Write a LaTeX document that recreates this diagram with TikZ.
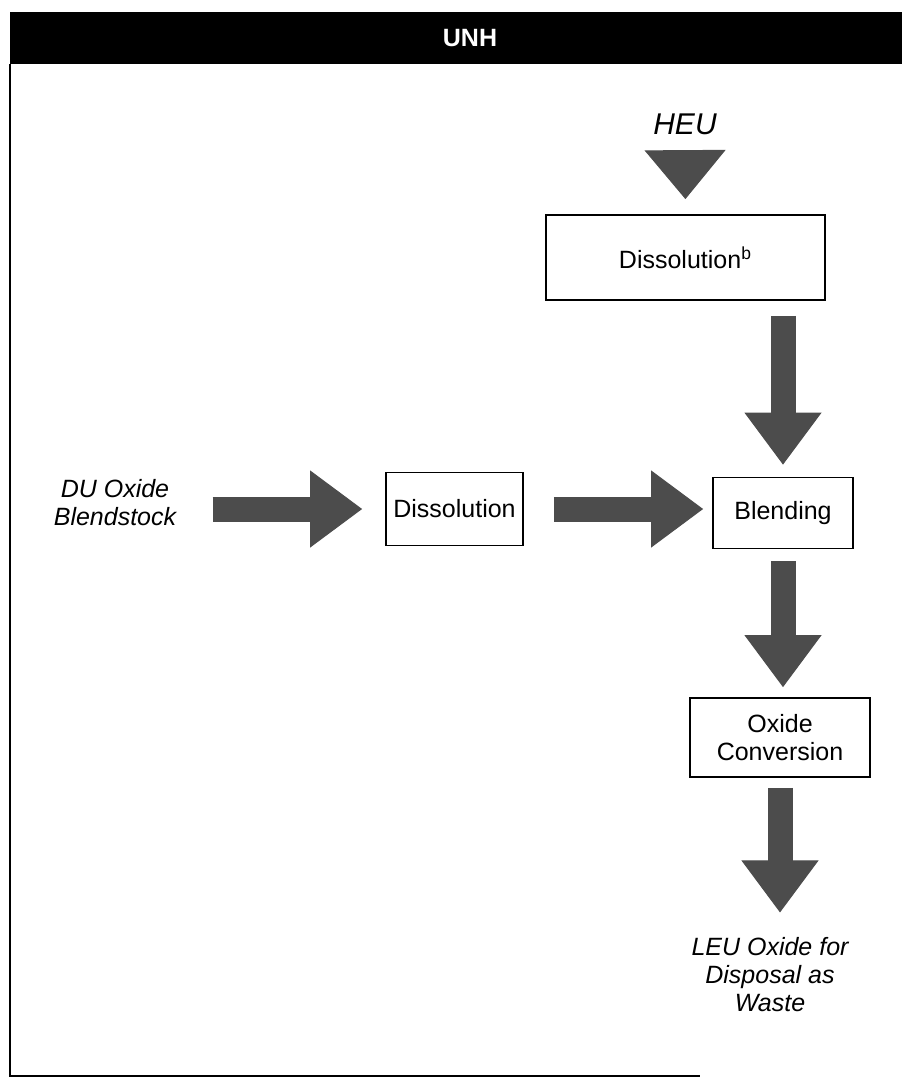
\documentclass[tikz,border=0pt]{standalone}
\usepackage{fontspec}
\setmainfont{Liberation Sans}
\usepackage{tikz}
\usetikzlibrary{arrows.meta}
\usetikzlibrary{calc}
\definecolor{flowgray}{gray}{0.3}
\tikzset{
  procbox/.style={
    draw, line width=0.9pt, inner sep=0pt, align=center,
    font=\fontsize{12.5}{14}\selectfont
  },
  termtext/.style={
    inner sep=0pt, align=center,
    font=\fontsize{12.5}{14}\selectfont\itshape
  },
  flowarrow/.style={
    flowgray, line width=12.5pt,
    -{Triangle[length=26pt, width=38.5pt, line width=0.5pt]}
  },
  headarrow/.style={
    flowgray, line width=0.5pt,
    -{Triangle[length=24.5pt, width=40.5pt, line width=0.5pt]}
  }
}

\begin{document}
\begin{tikzpicture}[x=0.5pt, y=-0.5pt]
    \useasboundingbox (0,0) rectangle (902,1083);
        %\draw[red, dashed] (current bounding box.south west) rectangle (current bounding box.north east);
  % Title bar and frame
  \fill[black] (10,12) rectangle (902,64);
  \node[text=white, font=\fontsize{12.5}{14}\selectfont\bfseries] (title) at (470,38) {UNH};
  \draw[line width=1pt] (10,64) -- (10,1076) -- (700,1076);

  % Process boxes
  \node[procbox, minimum width=139.5pt, minimum height=42.5pt] (heudiss) at (685.5,257.5) {Dissolution\textsuperscript{b}};
  \node[procbox, minimum width=68.5pt, minimum height=36.5pt] (dudiss) at (454.5,509) {Dissolution};
  \node[procbox, minimum width=70pt, minimum height=35.5pt] (blend) at (783,513) {Blending};
  \node[procbox, minimum width=90pt, minimum height=39.5pt] (oxconv) at (780,737.5) {Oxide\\Conversion};

  % Feeds and product
  \node[termtext, font=\fontsize{15}{17}\selectfont\itshape] (heu) at (685,124) {HEU};
  \node[termtext] (du) at (115,503) {DU Oxide\\Blendstock};
  \node[termtext] (leu) at (770,975) {LEU Oxide for\\Disposal as\\Waste};

  % Flow arrows
  \draw[headarrow, shorten <=8pt, shorten >=7.5pt] (heu.south) -- (heudiss.north);
  \draw[flowarrow, shorten <=18pt, shorten >=11.5pt] (du.east |- dudiss.west) -- (dudiss.west);
  \draw[flowarrow, shorten <=15pt, shorten >=4.5pt] (dudiss.east) -- (dudiss.east -| blend.west);
  \draw[flowarrow, shorten <=7.5pt, shorten >=6pt] (heudiss.south -| blend.north) -- (blend.north);
  \draw[flowarrow, shorten <=6pt, shorten >=5pt] (blend.south) -- (blend.south |- oxconv.north);
  \draw[flowarrow, shorten <=5pt, shorten >=12.5pt] (oxconv.south) -- (oxconv.south |- leu.north);

\end{tikzpicture}
\end{document}
